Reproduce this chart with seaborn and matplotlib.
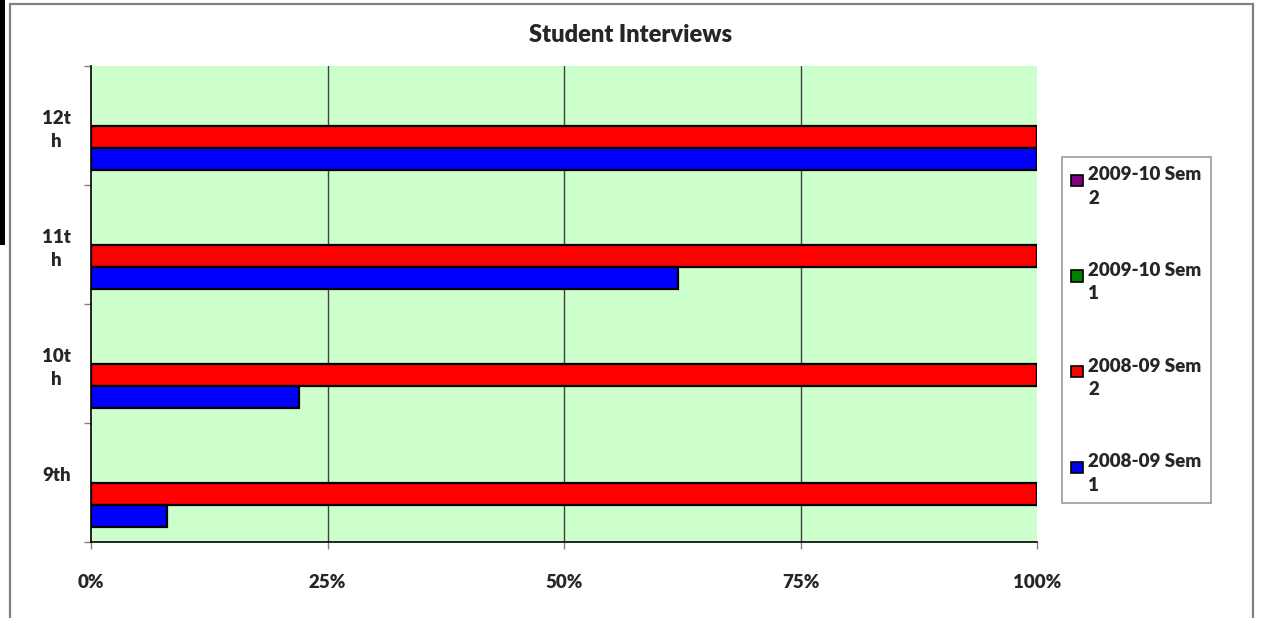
import numpy as np
import pandas as pd
import matplotlib.pyplot as plt
import seaborn as sns
from matplotlib.patches import Patch, Rectangle
from matplotlib.legend_handler import HandlerPatch
from matplotlib.ticker import PercentFormatter, FixedLocator

sns.set_theme(style="white")
plt.rcParams["font.family"] = ["Lato", "DejaVu Sans"]
plt.rcParams["font.weight"] = "heavy"

# data (percent of students interviewed)
grades = ["12th", "11th", "10th", "9th"]
grade_labels = ["12t\nh", "11t\nh", "10t\nh", "9th\n"]
series = ["2009-10 Sem 2", "2009-10 Sem 1", "2008-09 Sem 2", "2008-09 Sem 1"]
legend_labels = ["2009-10 Sem\n2", "2009-10 Sem\n1", "2008-09 Sem\n2", "2008-09 Sem\n1"]
colors = ["#800080", "#008000", "#FF0000", "#0000FF"]
sem2_0910 = [np.nan, np.nan, np.nan, np.nan]
sem1_0910 = [np.nan, np.nan, np.nan, np.nan]
sem2_0809 = [100, 100, 100, 100]
sem1_0809 = [100, 62, 22, 8]

values = [sem2_0910, sem1_0910, sem2_0809, sem1_0809]
df = pd.DataFrame({
    "grade": np.tile(grades, len(series)),
    "series": np.repeat(series, len(grades)),
    "value": np.concatenate(values),
})

fig = plt.figure(figsize=(12.62, 6.18), dpi=100)
ax = fig.add_axes([91/1262, 1-542/618, 946/1262, 476/618])
ax.set_facecolor("#CCFFCC")

sns.barplot(data=df.dropna(), x="value", y="grade", hue="series", orient="h",
            order=grades, hue_order=series, palette=colors, width=0.74,
            edgecolor="black", linewidth=1.6, saturation=1, errorbar=None,
            legend=False, ax=ax)

ax.set_xlim(0, 100)
ax.set_ylim(3.5, -0.5)
ax.set_xticks([0, 25, 50, 75, 100])
ax.xaxis.set_major_formatter(PercentFormatter(decimals=0))
ax.set_yticks(range(len(grades)))
ax.set_yticklabels(grade_labels)
ax.yaxis.set_minor_locator(FixedLocator(np.arange(-0.5, 4, 1)))
for t in ax.get_yticklabels():
    t.set_ha("center")
    t.set_linespacing(1.45)
ax.tick_params(axis="y", which="major", length=0, pad=25, labelsize=13.5)
ax.tick_params(axis="y", which="minor", left=True, length=5, color="#808080", width=1)
ax.tick_params(axis="x", bottom=True, length=5, color="#808080", width=1, pad=18, labelsize=13.5)
ax.set_xlabel("")
ax.set_ylabel("")
for x in [25, 50, 75]:
    ax.axvline(x, color="#404040", lw=1, zorder=0.5)
ax.set_axisbelow(True)

for side in ["top", "right"]:
    ax.spines[side].set_visible(False)
for side in ["left", "bottom"]:
    ax.spines[side].set_color("black")
    ax.spines[side].set_linewidth(1.2)


def top_square(legend, orig_handle, xdescent, ydescent, width, height, fontsize):
    s = 0.6 * fontsize
    return Rectangle((-xdescent, -ydescent + height - s * 1.25), s, s)


handles = [Patch(facecolor=c, edgecolor="black", linewidth=1.2) for c in colors]
leg = fig.legend(handles, legend_labels, loc="upper left",
                 bbox_to_anchor=(1062/1262, 1-157/618), borderaxespad=0,
                 fontsize=13.5, handlelength=0.6, handleheight=2.2, handletextpad=0.3,
                 labelspacing=2.95, frameon=True, fancybox=False, borderpad=0.5,
                 handler_map={Patch: HandlerPatch(patch_func=top_square)})
for t in leg.get_texts():
    t.set_linespacing(1.45)
leg.get_frame().set_edgecolor("#808080")
leg.get_frame().set_linewidth(1.2)

fig.text(631/1262, 1-35/618, "Student Interviews", ha="center", va="center",
         fontsize=17, fontweight="heavy")

# outer chart frame and the stray black strip on the left
fig.patches.append(Rectangle((10/1262, -0.1), 1243/1262, 1.1 - 4/618,
                             transform=fig.transFigure, fill=False,
                             edgecolor="#808080", linewidth=1.6))
fig.patches.append(Rectangle((0, 1-245/618), 5/1262, 245/618,
                             transform=fig.transFigure, facecolor="black",
                             edgecolor="none"))

fig.savefig("out.png", dpi=100)
